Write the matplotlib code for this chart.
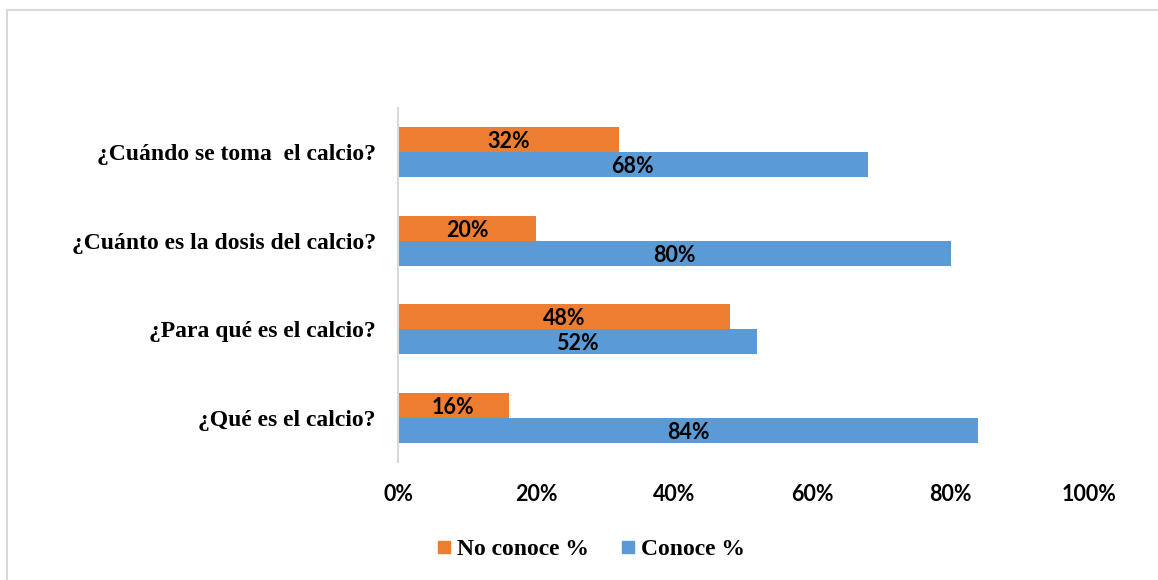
import numpy as np
import matplotlib.pyplot as plt
from matplotlib.lines import Line2D

# preguntas (de abajo hacia arriba)
preguntas = ['¿Qué es el calcio?', '¿Para qué es el calcio?',
             '¿Cuánto es la dosis del calcio?', '¿Cuándo se toma  el calcio?']
no_conoce = [16, 48, 20, 32]
conoce = [84, 52, 80, 68]
ticks = [0, 20, 40, 60, 80, 100]

ORANGE = '#ED7D31'
BLUE = '#5B9BD5'
GRID = '#D9D9D9'

fig = plt.figure(figsize=(11.58, 5.8), dpi=100)
ax = fig.add_axes([0.3437, 0.2034, 0.5967, 0.6104])

y = np.arange(len(preguntas))
h = 0.285
ax.barh(y + h / 2, no_conoce, height=h, color=ORANGE)
ax.barh(y - h / 2, conoce, height=h, color=BLUE)

for i in range(len(preguntas)):
    ax.text(no_conoce[i] / 2, y[i] + h / 2, '%d%%' % no_conoce[i], ha='center', va='center_baseline',
            fontsize=15.5, fontweight='bold', family='Lato', color='black')
    ax.text(conoce[i] / 2, y[i] - h / 2, '%d%%' % conoce[i], ha='center', va='center_baseline',
            fontsize=15.5, fontweight='bold', family='Lato', color='black')

ax.set_xlim(0, 100)
ax.set_ylim(-0.5, len(preguntas) - 0.5)
ax.set_xticks(ticks)
ax.set_xticklabels(['%d%%' % t for t in ticks], fontsize=15.5, fontweight='bold', family='Lato')
ax.set_yticks(y)
ax.set_yticklabels(preguntas, fontsize=17, fontweight='bold', family='Liberation Serif')
ax.tick_params(length=0)
ax.tick_params(axis='x', pad=16)
ax.tick_params(axis='y', pad=16)
for s in ['top', 'right', 'bottom']:
    ax.spines[s].set_visible(False)
ax.spines['left'].set_color(GRID)
ax.spines['left'].set_linewidth(1.5)

handles = [Line2D([], [], marker='s', linestyle='', color=ORANGE, markersize=9),
           Line2D([], [], marker='s', linestyle='', color=BLUE, markersize=9)]
fig.legend(handles, ['No conoce %', 'Conoce %'], loc='center', bbox_to_anchor=(590 / 1158, 1 - 549 / 580),
           ncol=2, frameon=False, handlelength=0.7, handletextpad=0.2, columnspacing=1.3,
           prop={'family': 'Liberation Serif', 'weight': 'bold', 'size': 17})

# borde del area del grafico
x0 = 7 / 1158
y0 = 1 - 10 / 580
fig.add_artist(Line2D([x0, x0], [0, y0], color=GRID, linewidth=1.5, transform=fig.transFigure))
fig.add_artist(Line2D([x0, 1], [y0, y0], color=GRID, linewidth=1.5, transform=fig.transFigure))

fig.savefig('out.png', dpi=100)
